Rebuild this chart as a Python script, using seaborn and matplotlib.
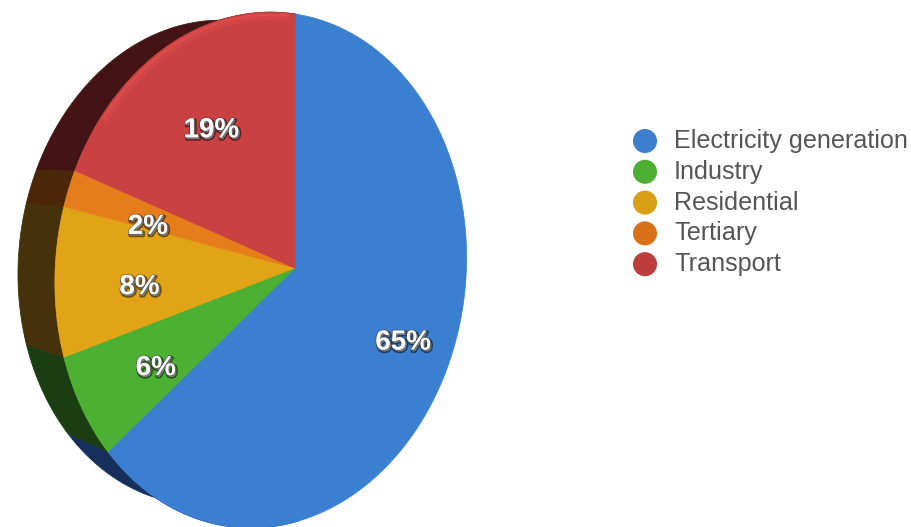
import numpy as np
import matplotlib
matplotlib.use("Agg")
import matplotlib.pyplot as plt
from matplotlib.patches import Polygon
from matplotlib import patheffects as pe
import seaborn as sns

# Final energy consumption by sector (%)
sectors = ["Electricity generation", "Industry", "Residential", "Tertiary", "Transport"]
shares = [65, 6, 8, 2, 19]
labels = ["65%", "6%", "8%", "2%", "19%"]

face_colors = ["#3a7fd0", "#4cb132", "#e2a417", "#e67d1b", "#c94141"]
side_colors = ["#17305b", "#1b3d12", "#46320a", "#4a2708", "#441414"]
legend_colors = ["#3b7fce", "#4caf33", "#d9a016", "#d7711a", "#bd3c3c"]
TRANSPORT_RIM = "#ee5252"

sns.set_theme(style="white")
plt.rcParams["font.family"] = ["Liberation Sans", "DejaVu Sans"]

# perspective view of the disc face: yaw about the vertical axis, pinhole distance
CX, CY, RAD = 295.0, 268.0, 254.0
YAW = np.radians(38.0)
DIST = 3.7
SHEAR = 0.06
# extrusion of the disc thickness towards a vanishing point
VANISH = np.array([-560.0, 146.0])
BACK_SCALE = 0.94


def project(x, y):
    x = np.asarray(x, dtype=float)
    y = np.asarray(y, dtype=float)
    x3 = x * np.cos(YAW)
    zv = -x * np.sin(YAW)
    f = DIST / (DIST - zv)
    return CX + RAD * f * x3, CY - RAD * f * (y + SHEAR * x3)


def extrude(px, py):
    return (VANISH[0] + BACK_SCALE * (px - VANISH[0]),
            VANISH[1] + BACK_SCALE * (py - VANISH[1]))


fig = plt.figure(figsize=(9.12, 5.27), dpi=100)
ax = fig.add_axes([0, 0, 1, 1])
ax.set_xlim(0, 912)
ax.set_ylim(527, 0)
ax.axis("off")

# wedge boundaries, clockwise from 12 o'clock
bounds = 90.0 - 3.6 * np.concatenate([[0], np.cumsum(shares)])

# side wall: only the part of the rim turned towards the viewer
for i in range(len(shares)):
    th_deg = np.linspace(bounds[i + 1], bounds[i], 400)
    m = np.cos(np.radians(th_deg)) <= 0.02
    if m.sum() < 2:
        continue
    th = np.radians(th_deg[m])
    fx, fy = project(np.cos(th), np.sin(th))
    bx, by = extrude(fx, fy)
    xs = np.concatenate([fx, bx[::-1]])
    ys = np.concatenate([fy, by[::-1]])
    ax.add_patch(Polygon(np.column_stack([xs, ys]), closed=True,
                         facecolor=side_colors[i], edgecolor=side_colors[i],
                         linewidth=0.6, zorder=1))

# front face wedges
cx0, cy0 = project(0.0, 0.0)
for i in range(len(shares)):
    th = np.radians(np.linspace(bounds[i], bounds[i + 1], 300))
    ax_, ay_ = project(np.cos(th), np.sin(th))
    xs = np.concatenate([[cx0], ax_])
    ys = np.concatenate([[cy0], ay_])
    ax.add_patch(Polygon(np.column_stack([xs, ys]), closed=True,
                         facecolor=face_colors[i], edgecolor=face_colors[i],
                         linewidth=0.5, zorder=2))

# soft bevel highlight along the near rim of the transport wedge
t = np.radians(np.linspace(bounds[-1] + 2, bounds[-2] - 12, 200))
for rr, lw, al in [(0.99, 2.0, 0.55), (0.978, 3.0, 0.25)]:
    hx, hy = project(rr * np.cos(t), rr * np.sin(t))
    ax.plot(hx, hy, color=TRANSPORT_RIM, lw=lw, alpha=al,
            solid_capstyle="round", zorder=3)

# percentage labels on the wedges
shadow = [pe.Stroke(linewidth=2.4, foreground=(0, 0, 0, 0.5), offset=(0.9, -1.2)),
          pe.Stroke(linewidth=1.1, foreground=(0.25, 0.25, 0.25, 0.6)),
          pe.Normal()]
for i, lab in enumerate(labels):
    mid = np.radians((bounds[i] + bounds[i + 1]) / 2)
    lx, ly = project(0.68 * np.cos(mid), 0.68 * np.sin(mid))
    ax.text(float(lx) - 2, float(ly) + 10, lab, color="white", fontsize=20,
            fontweight="bold", ha="center", va="center", zorder=5,
            path_effects=shadow)

# legend
for i, name in enumerate(sectors):
    yy = 141 + 30.8 * i
    ax.scatter([645], [yy], s=300, color=legend_colors[i], edgecolors="none", zorder=5)
    ax.text(674, yy, name, color="#555555", fontsize=18.1, ha="left", va="center", zorder=5)

fig.savefig("out.png", dpi=100)
